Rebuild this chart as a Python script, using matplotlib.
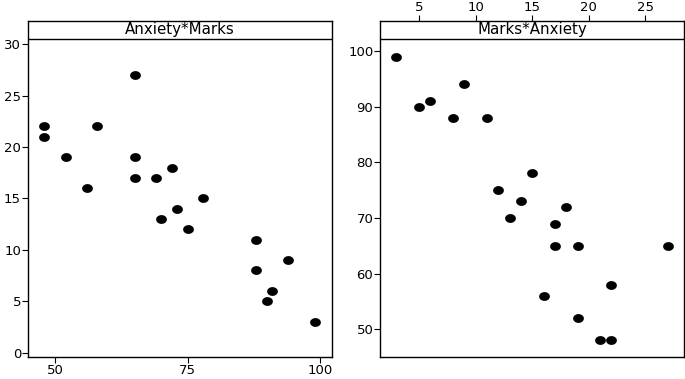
import numpy as np
import matplotlib
matplotlib.use("Agg")
import matplotlib.pyplot as plt
from matplotlib.path import Path

# data: exam marks and anxiety scores per student
marks = [48, 48, 52, 56, 58, 65, 65, 65, 69, 72, 70, 73, 75, 78, 88, 88, 94, 91, 90, 99]
anxiety = [22, 21, 19, 16, 22, 27, 19, 17, 17, 18, 13, 14, 12, 15, 11, 8, 9, 6, 5, 3]

left_xticks = [50, 75, 100]
left_yticks = [0, 5, 10, 15, 20, 25, 30]
right_xticks = [5, 10, 15, 20, 25]
right_yticks = [50, 60, 70, 80, 90, 100]

plt.rcParams['font.family'] = ['DejaVu Sans']

W, H = 685, 379
fig = plt.figure(figsize=(W / 100, H / 100), dpi=100)

# ellipse marker (slightly wider than tall)
t = np.linspace(0, 2 * np.pi, 60)
ell = Path(np.column_stack([np.cos(t), 0.82 * np.sin(t)]), closed=True)

top_px, bot_px, strip_px = 20.5, 357.3, 18.5
frac = strip_px / (bot_px - top_px)


def panel(left_px, right_px, x, y, xlim, ylim, xticks, yticks, title, xtop=False):
    ax = fig.add_axes([left_px / W, (H - bot_px) / H,
                       (right_px - left_px) / W, (bot_px - top_px) / H])
    lo, hi = ylim
    full_hi = hi + (hi - lo) * frac / (1 - frac)
    ax.scatter(x, y, s=60, marker=ell, color='black', linewidths=0, zorder=3)
    ax.set_xlim(*xlim)
    ax.set_ylim(lo, full_hi)
    ax.axhline(hi, color='black', lw=1.0)
    ax.text(0.5, 1 - frac / 2, title, transform=ax.transAxes,
            ha='center', va='center', fontsize=10.8)
    ax.set_xticks(xticks)
    ax.set_yticks(yticks)
    if xtop:
        ax.xaxis.tick_top()
    ax.tick_params(direction='out', length=4, width=0.8, labelsize=9.5, pad=1)
    for s in ax.spines.values():
        s.set_linewidth(1.0)
    return ax


panel(28, 332.3, marks, anxiety, (44.9, 102.3), (-0.46, 30.51),
      left_xticks, left_yticks, "Anxiety*Marks")
panel(380.3, 683.7, anxiety, marks, (1.58, 28.38), (44.97, 102.16),
      right_xticks, right_yticks, "Marks*Anxiety", xtop=True)

fig.savefig("out.png", dpi=100)
